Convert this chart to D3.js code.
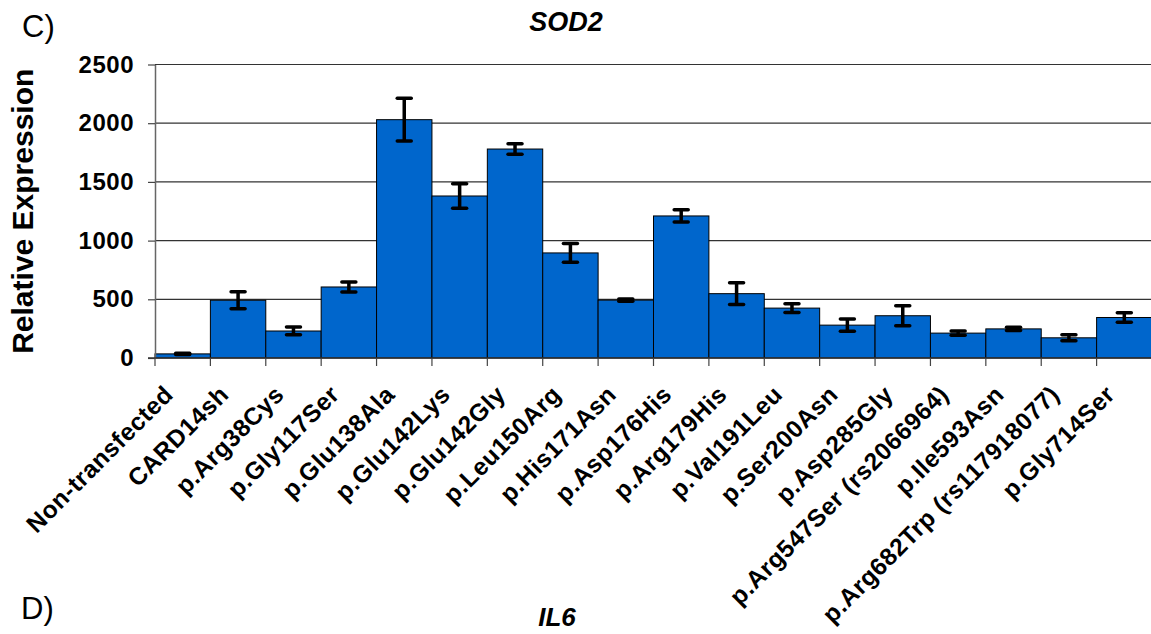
<!DOCTYPE html>
<html lang="en">
  <head>
    <title>SOD2 relative expression</title>
    <meta charset="utf-8" />
    <script src="https://d3js.org/d3.v7.min.js"></script>
    <style>
      body { margin: 0; background: #ffffff; }
      text { font-family: "Liberation Sans", Arial, sans-serif; fill: #000; }
    </style>
  </head>
  <body>
    <svg width="1151" height="634" xmlns="http://www.w3.org/2000/svg" id="target"></svg>
    <script>
        // data
        const categories = ["Non-transfected", "CARD14sh", "p.Arg38Cys", "p.Gly117Ser", "p.Glu138Ala",
          "p.Glu142Lys", "p.Glu142Gly", "p.Leu150Arg", "p.His171Asn", "p.Asp176His", "p.Arg179His",
          "p.Val191Leu", "p.Ser200Asn", "p.Asp285Gly", "p.Arg547Ser (rs2066964)", "p.Ile593Asn",
          "p.Arg682Trp (rs117918077)", "p.Gly714Ser"];
        const values = [35, 492, 230, 605, 2030, 1380, 1780, 895, 493, 1210, 548, 425, 280, 360, 212, 248, 172, 345];
        const errors = [6, 72, 33, 42, 182, 105, 45, 80, 10, 52, 92, 38, 52, 85, 18, 14, 25, 40];
        const yTicks = [0, 500, 1000, 1500, 2000, 2500];

        const plot = { left: 155, right: 1152, top: 64.5, bottom: 358 };
        const bar_def = { fill: "#0066cc", stroke: "#000000", stroke_width: 1 };
        const err_def = { stroke: "#000000", width: 3.5, cap: 14 };

        const svg = d3.select("#target");

        const x = d3.scaleBand()
          .domain(categories)
          .range([plot.left, plot.right])
          .padding(0);
        const y = d3.scaleLinear()
          .domain([0, 2500])
          .range([plot.bottom, plot.top]);

        // gridlines
        svg.selectAll("line.grid")
          .data(yTicks.filter(d => d > 0))
          .enter()
          .append("line")
          .attr("class", "grid")
          .attr("x1", plot.left)
          .attr("x2", plot.right)
          .attr("y1", d => y(d))
          .attr("y2", d => y(d))
          .attr("stroke", "#333333")
          .attr("stroke-width", 1.2)
        ;

        // bars
        svg.selectAll("rect.bar")
          .data(values)
          .enter()
          .append("rect")
          .attr("class", "bar")
          .attr("x", (d, i) => x(categories[i]))
          .attr("y", d => y(d))
          .attr("width", x.bandwidth())
          .attr("height", d => plot.bottom - y(d))
          .attr("fill", bar_def.fill)
          .attr("stroke", bar_def.stroke)
          .attr("stroke-width", bar_def.stroke_width)
        ;

        // error bars
        const eb = svg.selectAll("g.err")
          .data(values)
          .enter()
          .append("g")
          .attr("class", "err")
          .attr("transform", (d, i) => "translate(" + (x(categories[i]) + x.bandwidth() / 2) + ",0)")
        ;
        eb.append("line")
          .attr("x1", 0).attr("x2", 0)
          .attr("y1", (d, i) => y(d + errors[i]))
          .attr("y2", (d, i) => y(d - errors[i]))
          .attr("stroke", err_def.stroke)
          .attr("stroke-width", err_def.width)
        ;
        eb.selectAll("line.cap")
          .data((d, i) => [d + errors[i], d - errors[i]])
          .enter()
          .append("line")
          .attr("class", "cap")
          .attr("x1", -err_def.cap / 2).attr("x2", err_def.cap / 2)
          .attr("y1", d => y(d)).attr("y2", d => y(d))
          .attr("stroke", err_def.stroke)
          .attr("stroke-width", err_def.width)
          .attr("stroke-linecap", "round")
        ;

        // y axis
        const yAxis = d3.axisLeft(y)
          .tickValues(yTicks)
          .tickFormat(d3.format("d"))
          .tickSize(7)
          .tickSizeOuter(0)
          .tickPadding(14);
        const gy = svg.append("g")
          .attr("transform", "translate(" + plot.left + ",0)")
          .call(yAxis);
        gy.select(".domain").attr("stroke", "#666666").attr("stroke-width", 1.5);
        gy.selectAll(".tick line").attr("stroke", "#444444").attr("stroke-width", 1.2);
        gy.selectAll(".tick text")
          .attr("font-family", "Liberation Sans, Arial, sans-serif")
          .attr("font-size", 24)
          .attr("font-weight", "bold")
          .attr("letter-spacing", 0.5)
          .attr("fill", "#000");

        // x axis line + ticks at band edges
        svg.append("line")
          .attr("x1", plot.left - 7).attr("x2", plot.right)
          .attr("y1", plot.bottom).attr("y2", plot.bottom)
          .attr("stroke", "#333333").attr("stroke-width", 1.5);
        svg.selectAll("line.xtick")
          .data(categories)
          .enter()
          .append("line")
          .attr("class", "xtick")
          .attr("x1", d => x(d)).attr("x2", d => x(d))
          .attr("y1", plot.bottom).attr("y2", plot.bottom + 8)
          .attr("stroke", "#444444").attr("stroke-width", 1.2);

        // x labels
        svg.selectAll("text.xlab")
          .data(categories)
          .enter()
          .append("text")
          .attr("class", "xlab")
          .attr("transform", d => "translate(" + (x(d) + x.bandwidth() / 2 - 8) + "," + (plot.bottom + 38) + ") rotate(-45)")
          .attr("text-anchor", "end")
          .attr("font-size", 24.5)
          .attr("font-weight", "bold")
          .attr("letter-spacing", 0.5)
          .text(d => d);

        // y label
        svg.append("text")
          .attr("transform", "translate(33," + ((plot.top + plot.bottom) / 2 - 0) + ") rotate(-90)")
          .attr("text-anchor", "middle")
          .attr("font-size", 30)
          .attr("font-weight", "bold")
          .text("Relative Expression");

        // titles and panel letters
        svg.append("text")
          .attr("x", 566).attr("y", 31)
          .attr("text-anchor", "middle")
          .attr("font-size", 27)
          .attr("font-weight", "bold")
          .attr("font-style", "italic")
          .text("SOD2");
        svg.append("text")
          .attr("x", 22).attr("y", 37)
          .attr("font-size", 31)
          .text("C)");
        svg.append("text")
          .attr("x", 21).attr("y", 619)
          .attr("font-size", 31)
          .text("D)");
        svg.append("text")
          .attr("x", 557).attr("y", 626)
          .attr("text-anchor", "middle")
          .attr("font-size", 26)
          .attr("font-weight", "bold")
          .attr("font-style", "italic")
          .text("IL6");
    </script>
  </body>
</html>
